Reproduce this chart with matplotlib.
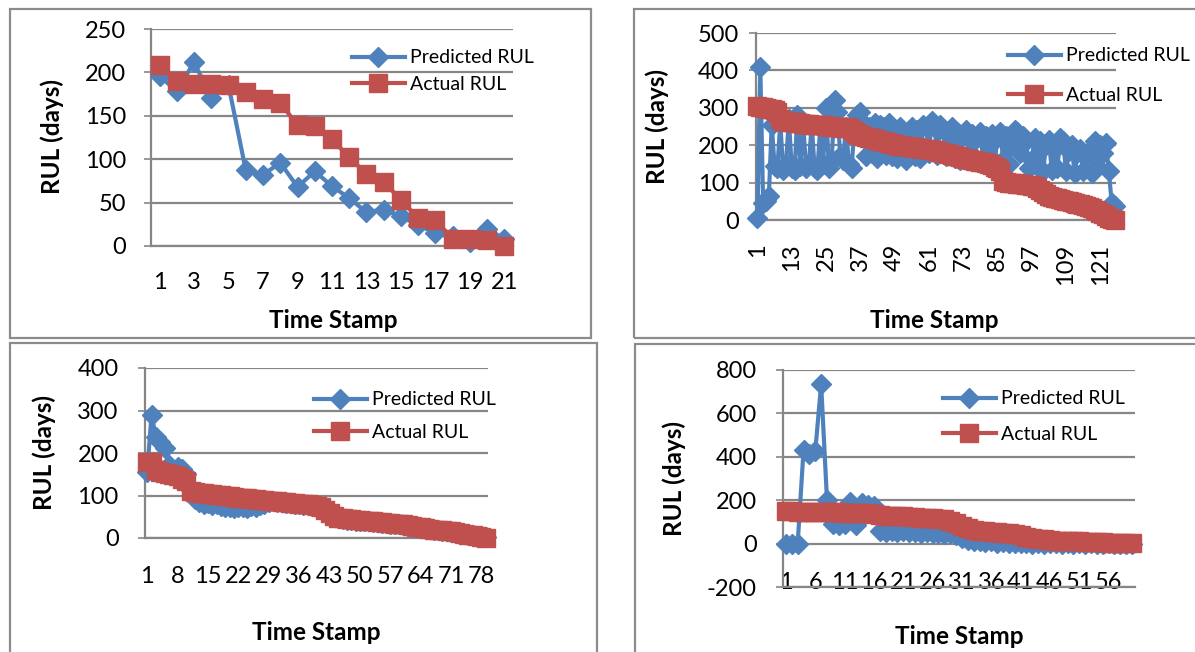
import numpy as np
import matplotlib.pyplot as plt
from matplotlib.patches import Rectangle

# ---- data ----
pred_1 = [196, 178, 212, 170, 185, 87, 82, 96, 68, 86, 69, 55, 39, 42, 34,
          24, 15, 12, 5, 20, 8]
actual_1 = [209, 190, 187, 187, 185, 177, 169, 165, 139, 138, 123, 102, 83,
            74, 53, 32, 30, 8, 8, 7, 0]

pred_2 = [5, 410, 45, 50, 65,
          255, 145, 140, 260, 135, 150, 270, 140, 135, 280, 145, 260, 140, 150, 255,
          140, 135, 250, 150, 300, 140, 160, 320, 290, 170, 160, 250, 150, 140, 260, 280,
          290, 260, 170, 250, 180, 260, 165, 255, 250, 175, 260, 170, 240, 165, 250,
          175, 160, 230, 250, 170, 240, 165, 255, 250,
          180, 265, 245, 175, 255, 240, 170, 230, 250, 165, 235, 160, 225, 240, 170,
          230, 165, 220, 235, 160, 225, 170, 230, 150, 220, 235, 160, 225, 150, 215,
          240, 235, 180, 225, 210,
          140, 160, 220, 145, 210, 130, 200, 215, 135, 190, 140, 220, 210, 130, 185,
          200, 125, 180, 190, 130, 175, 185, 125, 210,
          145, 200, 180, 205, 130, 45, 38]
actual_2 = [305, 303, 302, 300, 298, 296, 294, 290, 270, 265, 264, 263,
            262, 261, 260, 259, 258, 257, 256, 255,
            255, 254, 254, 253, 252, 251, 250, 249, 248, 247,
            250, 249, 245, 240, 235, 230,
            228, 225, 222, 220, 218, 216, 214, 212,
            210, 208, 206, 204, 202, 200, 199, 198, 197, 196, 195,
            194, 193, 192, 191, 190, 189, 188, 186, 184, 182, 180,
            178, 176, 174, 172, 170, 168, 166, 164, 162, 160, 158, 157,
            156, 155, 153, 150, 146, 142, 138, 130,
            105, 102, 100, 99, 98, 97, 96, 95, 94, 93,
            92, 90, 85, 80, 75, 70, 65, 62,
            60, 58, 56, 54, 52, 50, 48, 46,
            44, 42, 40, 37, 34, 31, 28, 25,
            20, 15, 10, 6, 3, 0]

pred_3 = [155, 290, 238, 226, 212, 172, 160, 168, 162, 150,
          112, 92, 85, 80, 82, 78, 80, 76, 74, 72,
          70, 74, 72, 70, 75, 73, 78, 80, 84, 86,
          85, 84, 83, 82, 80, 79, 78, 77, 75, 74,
          70, 62, 55, 50, 46, 44, 43, 42, 41, 40,
          40, 39, 38, 37, 36, 35, 34, 33, 32, 31,
          29, 27, 25, 24, 23, 21, 19, 18, 17, 16,
          15, 13, 11, 9, 8, 6, 5, 3, 2]
actual_3 = [180, 178, 160, 155, 152, 150, 148, 146, 140, 135,
            110, 108, 106, 105, 104, 103, 102, 101, 100, 98,
            96, 95, 94, 93, 92, 91, 90, 89, 88, 87,
            86, 85, 84, 83, 82, 81, 80, 79, 78, 76,
            72, 65, 58, 52, 48, 46, 45, 44, 43, 42,
            41, 40, 39, 38, 37, 36, 35, 34, 33, 32,
            30, 28, 26, 25, 24, 22, 20, 19, 18, 17,
            16, 14, 12, 10, 8, 7, 5, 3, 1]

pred_4 = [0, 0, 0, 430, 415, 425, 735, 200, 90, 85,
          90, 190, 85, 185, 180, 175, 60, 55, 60, 55,
          60, 55, 55, 50, 52, 48, 50, 45, 48, 40,
          25, 15, 10, 12, 8, 10, 5, 8, 5, 2,
          5, 3, 0, 2, 0, 2, 1, 0, 1, 0,
          1, 0, 1, 0, 0, 1, 0, 0, 0, 0]
actual_4 = [148, 148, 147, 147, 146, 146, 145, 145, 144, 144,
            143, 142, 141, 140, 139, 138, 130, 128, 127, 126,
            125, 124, 122, 120, 118, 116, 114, 112, 105, 95,
            80, 70, 62, 58, 56, 54, 52, 50, 48, 46,
            40, 30, 25, 22, 20, 15, 14, 13, 12, 11,
            10, 9, 8, 7, 6, 5, 4, 3, 2, 1]

ylims = [(0, 250, 50), (0, 500, 100), (0, 400, 100), (-200, 800, 200)]
xsteps = [2, 12, 7, 5]

BLUE = '#4F81BD'
RED = '#C0504D'
GRID = '#868686'

plt.rcParams['font.family'] = ['Lato', 'DejaVu Sans']
plt.rcParams['axes.unicode_minus'] = False

W, H = 1195, 652
fig = plt.figure(figsize=(W / 100, H / 100), dpi=100)


def fx(x):
    return x / W


def fy(y):
    return 1 - y / H


# panel frames (pixel boxes: left, top, right, bottom)
frames = [(10, 9, 591, 338), (634, 9, 1210, 338), (10, 343, 597, 670), (635, 344, 1210, 670)]
for l, t, r, b in frames:
    fig.patches.append(Rectangle((fx(l), fy(b)), fx(r - l), (b - t) / H, transform=fig.transFigure,
                                 fill=False, ec='#8c8c8c', lw=1.6))

# plot areas
boxes = [(151, 29, 513, 246), (756, 33, 1116, 220), (145, 368, 488, 538), (783, 370, 1135, 587)]
ytick_pad = [13, 7, 14, 14]
xtick_pad = [19, 17, 20, -11]
xrot = [0, 90, 0, 0]
ylab_pos = [(52, 137), (657, 127), (44, 453), (674, 478)]
xlab_pos = [(333, 320), (934, 320), (316, 633), (959, 637)]
leg_pos = [(352, 57, 85), (1008, 55, 96), (314, 399, 433), (943, 398, 435)]

preds = [pred_1, pred_2, pred_3, pred_4]
actuals = [actual_1, actual_2, actual_3, actual_4]

for i in range(4):
    l, t, r, b = boxes[i]
    ax = fig.add_axes([fx(l), fy(b), fx(r - l), (b - t) / H])
    n = len(preds[i])
    x = np.arange(1, n + 1)
    ax.plot(x, preds[i], color=BLUE, lw=3, marker='D', ms=10, mec=BLUE,
            label='Predicted RUL', clip_on=False, zorder=3)
    ax.plot(x, actuals[i], color=RED, lw=3, marker='s', ms=13.5, mec=RED,
            label='Actual RUL', clip_on=False, zorder=4)
    y0, y1, ys = ylims[i]
    ax.set_ylim(y0, y1)
    ax.set_yticks(np.arange(y0, y1 + 1, ys))
    ax.set_xlim(0.5, n + 0.5)
    ax.set_xticks(np.arange(1, n + 1, xsteps[i]))
    ax.set_xticklabels([str(v) for v in range(1, n + 1, xsteps[i])], rotation=xrot[i])
    ax.grid(axis='y', color=GRID, lw=1.6)
    ax.set_axisbelow(True)
    for s in ['top', 'right']:
        ax.spines[s].set_visible(False)
    for s in ['left', 'bottom']:
        ax.spines[s].set_color(GRID)
        ax.spines[s].set_linewidth(1.6)
    ax.tick_params(axis='y', direction='out', length=5, width=1.2, color=GRID,
                   labelsize=17, pad=ytick_pad[i])
    ax.tick_params(axis='x', length=0, labelsize=17, pad=xtick_pad[i])

    yx, yy = ylab_pos[i]
    fig.text(fx(yx), fy(yy), 'RUL (days)', rotation=90, ha='center', va='center',
             fontsize=17.5, fontweight='bold')
    tx, ty = xlab_pos[i]
    fig.text(fx(tx), fy(ty), 'Time Stamp', ha='center', va='center',
             fontsize=17.5, fontweight='bold')

    hx, r1, r2 = leg_pos[i]
    gap = (r2 - r1) * 72 / 100
    ax.legend(loc='center left', bbox_to_anchor=(fx(hx), fy((r1 + r2) / 2)),
              bbox_transform=fig.transFigure, frameon=False, fontsize=14,
              handlelength=2.7, handletextpad=0.3, borderpad=0, borderaxespad=0,
              labelspacing=(gap - 13.6) / 14, numpoints=1)

fig.savefig('out.png', dpi=100)
